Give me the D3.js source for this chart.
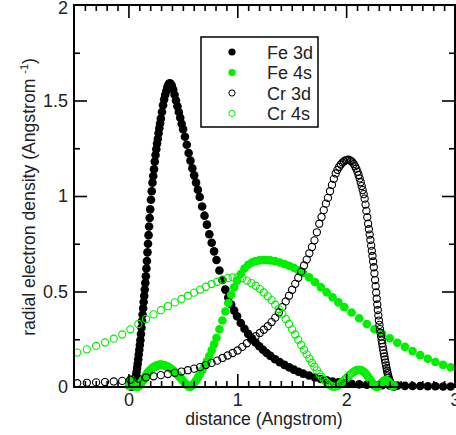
<!DOCTYPE html>
<html>
<head>
<meta charset="utf-8">
<script src="https://cdn.jsdelivr.net/npm/d3@7"></script>
<style>
  html, body { margin: 0; padding: 0; background: #fff; }
  svg { display: block; font-family: "Liberation Sans", Arial, Helvetica, sans-serif; }
</style>
</head>
<body>
<svg id="chart" width="456" height="435"></svg>
<script>
// Radial grid for the Fe atom (distance in Angstrom, Fe nucleus at 0)
const feX = [
  0.005, 0.01, 0.015, 0.02, 0.025, 0.03, 0.035, 0.04, 0.045, 0.05,
  0.055, 0.06, 0.065, 0.07, 0.075, 0.08, 0.085, 0.09, 0.095, 0.1,
  0.105, 0.11, 0.115, 0.12, 0.125, 0.13, 0.135, 0.14, 0.145, 0.15,
  0.155, 0.16, 0.165, 0.17, 0.175, 0.18, 0.185, 0.19, 0.195, 0.2,
  0.207, 0.214, 0.221, 0.228, 0.235, 0.242, 0.249, 0.256, 0.263, 0.27, 0.277, 0.284, 0.291, 0.298,
  0.308, 0.318, 0.328, 0.338, 0.348, 0.358, 0.368, 0.378, 0.388, 0.398,
  0.411, 0.424, 0.437, 0.45, 0.463, 0.476, 0.489, 0.502,
  0.519, 0.536, 0.553, 0.57, 0.587, 0.604, 0.621, 0.638, 0.655,
  0.677, 0.699, 0.721, 0.743, 0.765, 0.787, 0.809,
  0.836, 0.863, 0.89, 0.917, 0.944, 0.971, 0.998,
  1.032, 1.066, 1.1, 1.134, 1.168, 1.202, 1.236, 1.27, 1.304,
  1.347, 1.39, 1.433, 1.476, 1.519, 1.562, 1.605,
  1.659, 1.713, 1.767, 1.821, 1.875, 1.929, 1.983,
  2.05, 2.12, 2.19, 2.26, 2.33, 2.4, 2.47, 2.54, 2.61, 2.68, 2.75, 2.82, 2.89, 2.96
];

// Fe 3d radial density (null = no sample)
const fe3d = [
  null, null, null, null, 0.002, 0.003, 0.005, 0.008, 0.012, 0.018,
  0.025, 0.035, 0.046, 0.06, 0.078, 0.1, 0.122, 0.145, 0.17, 0.195,
  0.22, 0.245, 0.277, 0.31, 0.345, 0.38, 0.412, 0.445, 0.477, 0.51,
  0.545, 0.58, 0.62, 0.66, 0.705, 0.75, 0.795, 0.84, 0.885, 0.93,
  0.98, 1.025, 1.07, 1.105, 1.14, 1.18, 1.215, 1.245, 1.275, 1.3, 1.328, 1.355, 1.38, 1.405,
  1.44, 1.475, 1.505, 1.53, 1.55, 1.57, 1.583, 1.59, 1.588, 1.578,
  1.558, 1.53, 1.5, 1.47, 1.44, 1.41, 1.378, 1.35,
  1.31, 1.268, 1.225, 1.185, 1.145, 1.108, 1.07, 1.033, 0.995,
  0.945, 0.897, 0.85, 0.8, 0.755, 0.71, 0.665,
  0.61, 0.56, 0.51, 0.468, 0.432, 0.4, 0.37,
  0.335, 0.305, 0.278, 0.255, 0.233, 0.213, 0.195, 0.178, 0.163,
  0.145, 0.13, 0.116, 0.103, 0.091, 0.08, 0.07,
  0.06, 0.05, 0.042, 0.035, 0.029, 0.024, 0.02,
  0.017, 0.014, 0.012, 0.01, 0.009, 0.008, 0.007, 0.006, 0.005, 0.005, 0.004, 0.004, 0.003, 0.003
];

// Fe 4s radial density
const fe4s = [
  0.005, 0.02, 0.032, 0.038, 0.038, 0.034, 0.028, 0.022, 0.016, 0.011,
  0.007, 0.004, 0.002, 0.001, 0.0, 0.001, 0.002, 0.004, 0.006, 0.009,
  0.012, 0.016, 0.02, 0.024, 0.028, 0.033, 0.037, 0.042, 0.046, 0.05,
  0.055, 0.059, 0.063, 0.067, 0.071, 0.075, 0.078, 0.082, 0.085, 0.088,
  0.092, 0.096, 0.099, 0.102, 0.105, 0.107, 0.109, 0.111, 0.113, 0.114, 0.115, 0.116, 0.116, 0.116,
  0.116, 0.115, 0.114, 0.112, 0.11, 0.107, 0.104, 0.1, 0.096, 0.092,
  0.086, 0.08, 0.073, 0.065, 0.057, 0.049, 0.041, 0.032,
  0.021, 0.011, 0.003, 0.002, 0.01, 0.021, 0.034, 0.049, 0.065,
  0.087, 0.11, 0.135, 0.162, 0.192, 0.224, 0.258,
  0.302, 0.348, 0.395, 0.44, 0.483, 0.522, 0.557,
  0.592, 0.62, 0.64, 0.652, 0.659, 0.663, 0.665, 0.665, 0.663,
  0.659, 0.652, 0.644, 0.635, 0.624, 0.611, 0.597,
  0.575, 0.55, 0.523, 0.496, 0.47, 0.443, 0.418,
  0.39, 0.36, 0.33, 0.302, 0.278, 0.255, 0.232, 0.21, 0.188, 0.167, 0.148, 0.131, 0.116, 0.103
];

// Radial grid for the Cr atom, measured back from its nucleus near 2.45 Angstrom
const crX = [
  -0.47, -0.382, -0.297, -0.215, -0.135, -0.057, 0.018, 0.091, 0.162, 0.231,
  0.298, 0.363, 0.426, 0.487, 0.546, 0.603, 0.658, 0.712, 0.764, 0.815,
  0.864, 0.912, 0.958, 1.003, 1.046, 1.088, 1.129, 1.169, 1.207, 1.244,
  1.28, 1.315, 1.349, 1.382, 1.414, 1.445, 1.475, 1.504, 1.532, 1.56,
  1.587, 1.613, 1.638, 1.662, 1.686, 1.709, 1.731, 1.753, 1.774, 1.794,
  1.814, 1.833, 1.852, 1.87, 1.887, 1.904, 1.92, 1.936, 1.951, 1.966,
  1.981, 1.995, 2.009, 2.022, 2.035, 2.047, 2.059, 2.071, 2.082, 2.093,
  2.104, 2.114, 2.124, 2.134, 2.143, 2.152, 2.161, 2.17, 2.178, 2.186,
  2.194, 2.202, 2.209, 2.216, 2.223, 2.23, 2.236, 2.242, 2.248, 2.254,
  2.26, 2.266, 2.271, 2.276, 2.281, 2.286, 2.291, 2.296, 2.301, 2.306,
  2.311, 2.316, 2.321, 2.326, 2.331, 2.336, 2.341, 2.346, 2.351, 2.356,
  2.361, 2.366, 2.371, 2.376, 2.381, 2.386, 2.391, 2.396, 2.401, 2.406,
  2.411, 2.416, 2.421, 2.426, 2.431, 2.436, 2.441
];

// Cr 3d radial density
const cr3d = [
  0.02, 0.022, 0.024, 0.026, 0.029, 0.032, 0.038, 0.044, 0.05, 0.056,
  0.062, 0.068, 0.074, 0.081, 0.088, 0.096, 0.104, 0.115, 0.126, 0.138,
  0.152, 0.165, 0.178, 0.191, 0.21, 0.229, 0.248, 0.266, 0.283, 0.3,
  0.318, 0.34, 0.363, 0.39, 0.418, 0.448, 0.478, 0.509, 0.54, 0.572,
  0.604, 0.636, 0.667, 0.7, 0.733, 0.768, 0.81, 0.855, 0.89, 0.926,
  0.96, 0.99, 1.025, 1.058, 1.09, 1.118, 1.137, 1.153, 1.165, 1.175,
  1.182, 1.187, 1.189, 1.19, 1.187, 1.182, 1.176, 1.167, 1.156, 1.143,
  1.127, 1.11, 1.092, 1.072, 1.052, 1.031, 1.01, 0.986, 0.955, 0.922,
  0.889, 0.855, 0.826, 0.798, 0.77, 0.74, 0.713, 0.686, 0.657, 0.627,
  0.595, 0.56, 0.528, 0.495, 0.462, 0.432, 0.403, 0.375, 0.348, 0.325,
  0.303, 0.283, 0.264, 0.245, 0.228, 0.21, 0.193, 0.176, 0.16, 0.144,
  0.128, 0.113, 0.099, 0.085, 0.072, 0.06, 0.048, 0.038, 0.03, 0.023,
  0.017, 0.013, 0.009, 0.006, 0.004, 0.003, 0.002
];

// Cr 4s radial density
const cr4s = [
  0.18, 0.197, 0.215, 0.233, 0.253, 0.275, 0.302, 0.33, 0.356, 0.38,
  0.402, 0.423, 0.443, 0.461, 0.478, 0.494, 0.51, 0.525, 0.539, 0.551,
  0.562, 0.57, 0.574, 0.575, 0.569, 0.557, 0.544, 0.53, 0.514, 0.495,
  0.475, 0.455, 0.431, 0.408, 0.383, 0.356, 0.33, 0.302, 0.275, 0.247,
  0.22, 0.195, 0.171, 0.149, 0.127, 0.106, 0.087, 0.069, 0.053, 0.039,
  0.027, 0.017, 0.009, 0.004, 0.001, 0.002, 0.006, 0.012, 0.019, 0.027,
  0.035, 0.043, 0.05, 0.057, 0.064, 0.07, 0.075, 0.08, 0.084, 0.087,
  0.089, 0.09, 0.09, 0.089, 0.087, 0.084, 0.08, 0.076, 0.071, 0.066,
  0.06, 0.054, 0.048, 0.042, 0.036, 0.03, 0.025, 0.02, 0.016, 0.012,
  0.008, 0.005, 0.003, 0.001, 0.0, 0.001, 0.002, 0.004, 0.007, 0.01,
  0.013, 0.016, 0.019, 0.022, 0.025, 0.028, 0.03, 0.032, 0.034, 0.035,
  0.036, 0.036, 0.035, 0.034, 0.032, 0.03, 0.027, 0.024, 0.02, 0.016,
  0.012, 0.008, 0.005, 0.003, 0.004, 0.006, 0.008
];

const seriesNames = ["Fe 3d", "Fe 4s", "Cr 3d", "Cr 4s"];
const xTickLabels = [0, 1, 2, 3];
const yTickLabels = [0, 0.5, 1, 1.5, 2];

const GREEN = "#00ee00";
const series = [
  { name: seriesNames[0], xs: feX, ys: fe3d, color: "#000", filled: true },
  { name: seriesNames[1], xs: feX, ys: fe4s, color: GREEN,  filled: true },
  { name: seriesNames[2], xs: crX, ys: cr3d, color: "#000", filled: false },
  { name: seriesNames[3], xs: crX, ys: cr4s, color: GREEN,  filled: false }
];

const svg = d3.select("#chart");
const plotL = 74, plotR = 455, plotT = 5, plotB = 387;
const x = d3.scaleLinear().domain([-0.5, 3]).range([plotL, plotR]);
const y = d3.scaleLinear().domain([0, 2]).range([plotB, plotT]);

// symbols
const marks = svg.append("g");
series.forEach(s => {
  const pts = s.xs.map((v, i) => [v, s.ys[i]]).filter(d => d[1] !== null);
  marks.append("g")
    .selectAll("circle")
    .data(pts)
    .join("circle")
    .attr("cx", d => x(d[0]))
    .attr("cy", d => y(d[1]))
    .attr("r", s.filled ? 4.3 : 3.6)
    .attr("fill", s.filled ? s.color : "none")
    .attr("stroke", s.filled ? "none" : s.color)
    .attr("stroke-width", 1.1);
});

// axes: inward ticks on all four sides
const minorX = d3.range(-4, 30).map(i => i / 10).filter(v => Math.abs(v - Math.round(v)) > 1e-9);
const minorY = [0.25, 0.75, 1.25, 1.75];
const majorY = [0.5, 1, 1.5];
const fmt = d => String(d);

function styleAxis(g) {
  g.select(".domain").remove();
  g.attr("font-family", null).attr("font-size", null);
  g.selectAll(".tick line").attr("stroke", "#000").attr("stroke-width", 1.6);
  g.selectAll(".tick text").attr("fill", "#222").style("font-size", "18px");
}

// bottom
svg.append("g").attr("transform", `translate(0,${plotB})`)
  .call(d3.axisBottom(x).tickValues(minorX).tickSize(-6).tickFormat(""))
  .call(styleAxis);
svg.append("g").attr("transform", `translate(0,${plotB})`)
  .call(d3.axisBottom(x).tickValues(xTickLabels).tickSize(-13).tickPadding(6).tickFormat(fmt))
  .call(styleAxis);
// top
svg.append("g").attr("transform", `translate(0,${plotT})`)
  .call(d3.axisTop(x).tickValues(minorX).tickSize(-6).tickFormat(""))
  .call(styleAxis);
svg.append("g").attr("transform", `translate(0,${plotT})`)
  .call(d3.axisTop(x).tickValues(xTickLabels).tickSize(-13).tickFormat(""))
  .call(styleAxis);
// left
svg.append("g").attr("transform", `translate(${plotL},0)`)
  .call(d3.axisLeft(y).tickValues(minorY).tickSize(-6).tickFormat(""))
  .call(styleAxis);
svg.append("g").attr("transform", `translate(${plotL},0)`)
  .call(d3.axisLeft(y).tickValues(majorY).tickSize(-13).tickFormat(""))
  .call(styleAxis);
const yLabels = svg.append("g").attr("transform", `translate(${plotL},0)`)
  .call(d3.axisLeft(y).tickValues(yTickLabels).tickSize(0).tickPadding(6).tickFormat(fmt))
  .call(styleAxis);
// the topmost label sits just inside the page edge
yLabels.selectAll(".tick text").filter(d => d === 2).attr("dy", "0.46em");
// right
svg.append("g").attr("transform", `translate(${plotR},0)`)
  .call(d3.axisRight(y).tickValues(minorY).tickSize(-6).tickFormat(""))
  .call(styleAxis);
svg.append("g").attr("transform", `translate(${plotR},0)`)
  .call(d3.axisRight(y).tickValues(majorY).tickSize(-13).tickFormat(""))
  .call(styleAxis);

// frame
svg.append("rect")
  .attr("x", plotL).attr("y", plotT)
  .attr("width", plotR - plotL).attr("height", plotB - plotT)
  .attr("fill", "none").attr("stroke", "#000").attr("stroke-width", 2);

// axis titles
svg.append("text")
  .attr("x", (plotL + plotR) / 2 - 0.5).attr("y", 425)
  .attr("text-anchor", "middle").attr("fill", "#222")
  .style("font-size", "17.6px")
  .text("distance (Angstrom)");

const yTitle = svg.append("text")
  .attr("transform", "translate(35,197) rotate(-90)")
  .attr("text-anchor", "middle").attr("fill", "#222")
  .style("font-size", "17.6px");
yTitle.append("tspan").text("radial electron density (Angstrom ");
yTitle.append("tspan").attr("dy", -7).style("font-size", "11px").text("-1");
yTitle.append("tspan").attr("dy", 7).text(")");

// legend
const lg = svg.append("g");
lg.append("rect")
  .attr("x", 201).attr("y", 37).attr("width", 117).attr("height", 90)
  .attr("fill", "#fff").attr("stroke", "#000").attr("stroke-width", 1.5);
const rows = lg.selectAll("g.row").data(series).join("g")
  .attr("class", "row")
  .attr("transform", (d, i) => `translate(0,${52 + i * 20.5})`);
rows.append("circle")
  .attr("cx", 232).attr("cy", 0)
  .attr("r", d => d.filled ? 3.6 : 3.1)
  .attr("fill", d => d.filled ? d.color : "none")
  .attr("stroke", d => d.filled ? "none" : d.color)
  .attr("stroke-width", 1);
rows.append("text")
  .attr("x", 267).attr("y", 6.5)
  .attr("fill", "#222")
  .style("font-size", "18px")
  .text(d => d.name);
</script>
</body>
</html>
